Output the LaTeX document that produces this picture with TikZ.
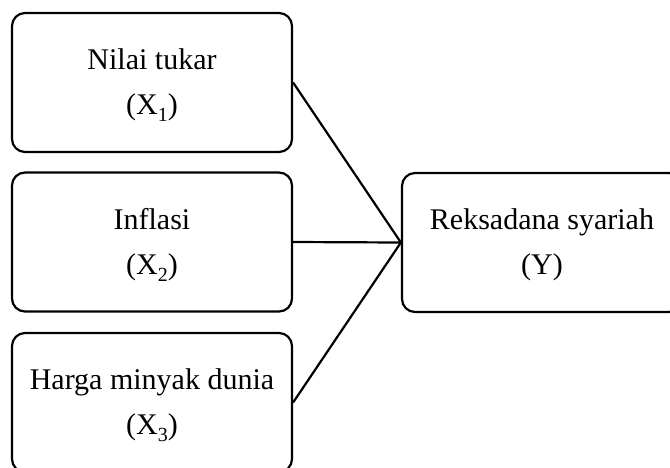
\documentclass[tikz,border=0pt]{standalone}
\usepackage{fontspec}
\setmainfont{Liberation Serif}
\newcommand{\mysub}[1]{\raisebox{-7pt}{\fontsize{20}{20}\selectfont #1}}
\begin{document}
\begin{tikzpicture}[x=1pt,y=-1pt,
  box/.style={draw, line width=2.2pt, rounded corners=13pt, minimum width=280pt,
    minimum height=139pt, align=center, inner sep=0pt,
    font=\fontsize{30}{45}\selectfont},
  conn/.style={line width=2.2pt}]
\useasboundingbox (0,0) rectangle (670,467);
\clip (0,0) rectangle (670,467);
\node[box] (b1) at (152,82.5) {\rule{0pt}{26pt}Nilai tukar\\(X\mysub{1})};
\node[box] (b2) at (152,242) {\rule{0pt}{26pt}Inflasi\\(X\mysub{2})};
\node[box] (b3) at (152,402.5) {\rule{0pt}{26pt}Harga minyak dunia\\(X\mysub{3})};
\node[box] (y) at (542,242.5) {\rule{0pt}{26pt}Reksadana syariah\\(Y)};
\draw[conn] (b1.east) -- (y.west);
\draw[conn] (b2.east) -- (y.west);
\draw[conn] (b3.east) -- (y.west);
\end{tikzpicture}
\end{document}
